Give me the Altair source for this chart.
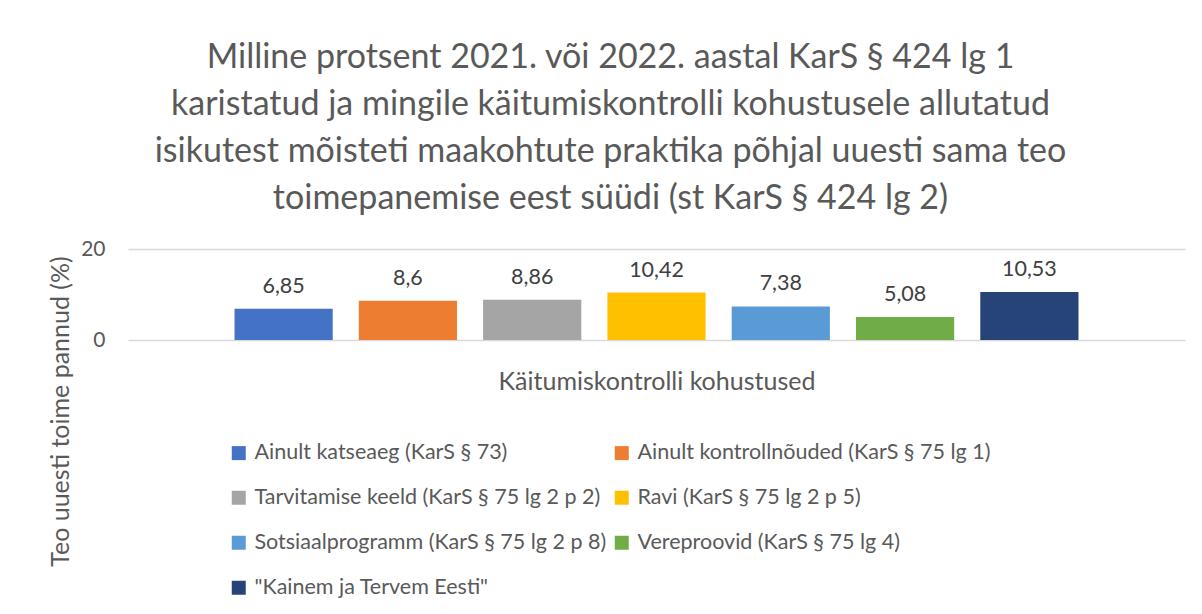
import altair as alt
import pandas as pd

categories = [
    "Ainult katseaeg (KarS § 73)",
    "Ainult kontrollnõuded (KarS § 75 lg 1)",
    "Tarvitamise keeld (KarS § 75 lg 2 p 2)",
    "Ravi (KarS § 75 lg 2 p 5)",
    "Sotsiaalprogramm (KarS § 75 lg 2 p 8)",
    "Vereproovid (KarS § 75 lg 4)",
    "\"Kainem ja Tervem Eesti\"",
]
values = [6.85, 8.6, 8.86, 10.42, 7.38, 5.08, 10.53]
labels = ["6,85", "8,6", "8,86", "10,42", "7,38", "5,08", "10,53"]
colors = ["#4472C4", "#ED7D31", "#A5A5A5", "#FFC000", "#5B9BD5", "#70AD47", "#264478"]
y_ticks = [0, 20]

df = pd.DataFrame({"cat": categories, "val": values, "lab": labels})

FONT = "Lato"
TXT = "#595959"

title_lines = [
    "Milline protsent 2021. või 2022. aastal KarS § 424 lg 1",
    "karistatud ja mingile käitumiskontrolli kohustusele allutatud",
    "isikutest mõisteti maakohtute praktika põhjal uuesti sama teo",
    "toimepanemise eest süüdi (st KarS § 424 lg 2)",
]

x_enc = alt.X(
    "cat:N",
    sort=categories,
    scale=alt.Scale(paddingInner=0.21, paddingOuter=0.857),
    axis=alt.Axis(
        labels=False, ticks=False, domain=False, grid=False,
        title="Käitumiskontrolli kohustused",
        titleFont=FONT, titleFontSize=25, titleFontWeight="normal", titleColor=TXT,
        titleY=41, titleBaseline="middle",
    ),
)

y_enc = alt.Y(
    "val:Q",
    scale=alt.Scale(domain=[0, 20], nice=False),
    axis=alt.Axis(
        values=y_ticks, ticks=False, domain=False, grid=True,
        gridColor="#D9D9D9", gridWidth=1.3,
        labelFont=FONT, labelFontSize=21, labelColor=TXT, labelPadding=23,
        title="Teo uuesti toime pannud (%)",
        titleFont=FONT, titleFontSize=25, titleFontWeight="normal", titleColor=TXT,
        titleX=-68, titleY=162, titleAngle=-90, titleAlign="center", titleBaseline="middle",
    ),
)

bars = alt.Chart(df).mark_bar().encode(
    x=x_enc,
    y=y_enc,
    color=alt.Color(
        "cat:N",
        sort=categories,
        scale=alt.Scale(domain=categories, range=colors),
        legend=alt.Legend(
            title=None, orient="none", legendX=100, legendY=193, columns=2,
            direction="horizontal",
            symbolType="square", symbolSize=196, symbolStrokeWidth=0,
            labelFont=FONT, labelFontSize=21.5, labelColor=TXT, labelOffset=5,
            rowPadding=22, columnPadding=4, labelLimit=500,
        ),
    ),
)

text = alt.Chart(df).mark_text(
    dy=-22, baseline="middle", font=FONT, fontSize=21.5, color="#404040"
).encode(
    x=alt.X("cat:N", sort=categories),
    y="val:Q",
    text="lab:N",
)

chart = alt.layer(bars, text).properties(
    width=1057,
    height=91,
    autosize=alt.AutoSizeParams(type="none"),
    padding={"left": 120, "top": 241, "right": 9, "bottom": 262},
    title=alt.TitleParams(
        text=title_lines, anchor="middle", dx=-46, font=FONT, fontSize=34,
        fontWeight="normal", color=TXT, lineHeight=47, offset=22,
    ),
).configure_view(stroke=None)

chart.save("out.html", embed_options={"renderer": "svg", "actions": False})
